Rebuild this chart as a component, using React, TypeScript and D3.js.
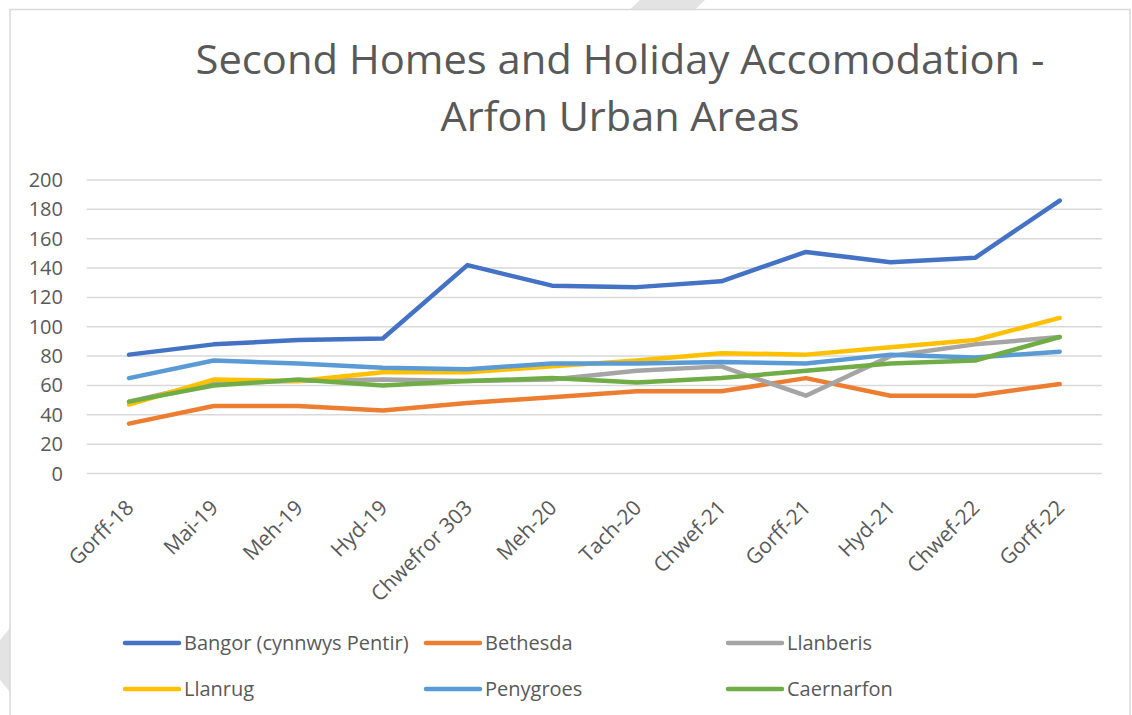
import React from "react";
import * as d3 from "d3";

const categories = ["Gorff-18","Mai-19","Meh-19","Hyd-19","Chwefror 303","Meh-20","Tach-20","Chwef-21","Gorff-21","Hyd-21","Chwef-22","Gorff-22"];
const seriesNames = ["Bangor (cynnwys Pentir)","Bethesda","Llanberis","Llanrug","Penygroes","Caernarfon"];
const bangor = [81, 88, 91, 92, 142, 128, 127, 131, 151, 144, 147, 186];
const bethesda = [34, 46, 46, 43, 48, 52, 56, 56, 65, 53, 53, 61];
const llanberis = [49, 62, 63, 64, 63, 64, 70, 73, 53, 80, 88, 93];
const llanrug = [47, 64, 63, 69, 69, 73, 77, 82, 81, 86, 91, 106];
const penygroes = [65, 77, 75, 72, 71, 75, 75, 76, 75, 81, 79, 83];
const caernarfon = [49, 60, 64, 60, 63, 65, 62, 65, 70, 75, 77, 93];
const yTicks = [0, 20, 40, 60, 80, 100, 120, 140, 160, 180, 200];
const colors = ["#4472C4","#ED7D31","#A5A5A5","#FFC000","#5B9BD5","#70AD47"];

const seriesValues = [bangor, bethesda, llanberis, llanrug, penygroes, caernarfon];

export default function App() {
  const W = 1132, H = 715;
  const left = 86.7, right = 1102, top = 180, bottom = 473.5;
  const x = d3.scaleBand<string>().domain(categories).range([left, right]);
  const y = d3.scaleLinear().domain([0, 200]).range([bottom, top]);
  const cx = (c: string) => (x(c) as number) + x.bandwidth() / 2;
  const line = d3.line<number>().x((_, i) => cx(categories[i])).y((v) => y(v));
  const font = "'Open Sans', 'Noto Sans', sans-serif";
  const textColor = "#595959";
  const legendPos = [
    [125, 643], [426, 643], [728, 643],
    [125, 689], [426, 689], [728, 689],
  ];
  return (
    <svg width={W} height={H} style={{ position: "absolute", left: 0, top: 0, display: "block" }}>
      <rect x={0} y={0} width={W} height={H} fill="#ffffff" />
      <polygon points="640,0 705,0 695,9.5 630,9.5" fill="#E3E3E3" />
      <polygon points="0,640 10,628 10,692 0,680" fill="#E3E3E3" />
      <rect x={10} y={9.5} width={1120} height={720} fill="#ffffff" stroke="#D9D9D9" strokeWidth={1.5} />
      <text x={620} y={74} textAnchor="middle" fontFamily={font} fontSize={40} fill={textColor}
        textLength={849} lengthAdjust="spacingAndGlyphs">Second Homes and Holiday Accomodation -</text>
      <text x={620} y={131} textAnchor="middle" fontFamily={font} fontSize={40} fill={textColor}
        textLength={359} lengthAdjust="spacingAndGlyphs">Arfon Urban Areas</text>
      {yTicks.map((t) => (
        <g key={t}>
          <line x1={left} x2={right} y1={y(t)} y2={y(t)} stroke="#D9D9D9" strokeWidth={1.5} />
          <text x={63} y={y(t) + 7} textAnchor="end" fontFamily={font} fontSize={20} fill={textColor}>{t}</text>
        </g>
      ))}
      {categories.map((c) => (
        <text key={c} transform={`translate(${cx(c) + 6},${509}) rotate(-45)`} textAnchor="end"
          fontFamily={font} fontSize={21} fill={textColor}>{c}</text>
      ))}
      {seriesValues.map((vals, i) => (
        <path key={seriesNames[i]} d={line(vals) as string} fill="none" stroke={colors[i]}
          strokeWidth={4.5} strokeLinecap="round" strokeLinejoin="round" />
      ))}
      {seriesNames.map((n, i) => (
        <g key={n}>
          <line x1={legendPos[i][0]} x2={legendPos[i][0] + 54} y1={legendPos[i][1]} y2={legendPos[i][1]}
            stroke={colors[i]} strokeWidth={4.5} strokeLinecap="round" />
          <text x={legendPos[i][0] + 59} y={legendPos[i][1] + 7} fontFamily={font} fontSize={20} fill={textColor}>{n}</text>
        </g>
      ))}
    </svg>
  );
}
